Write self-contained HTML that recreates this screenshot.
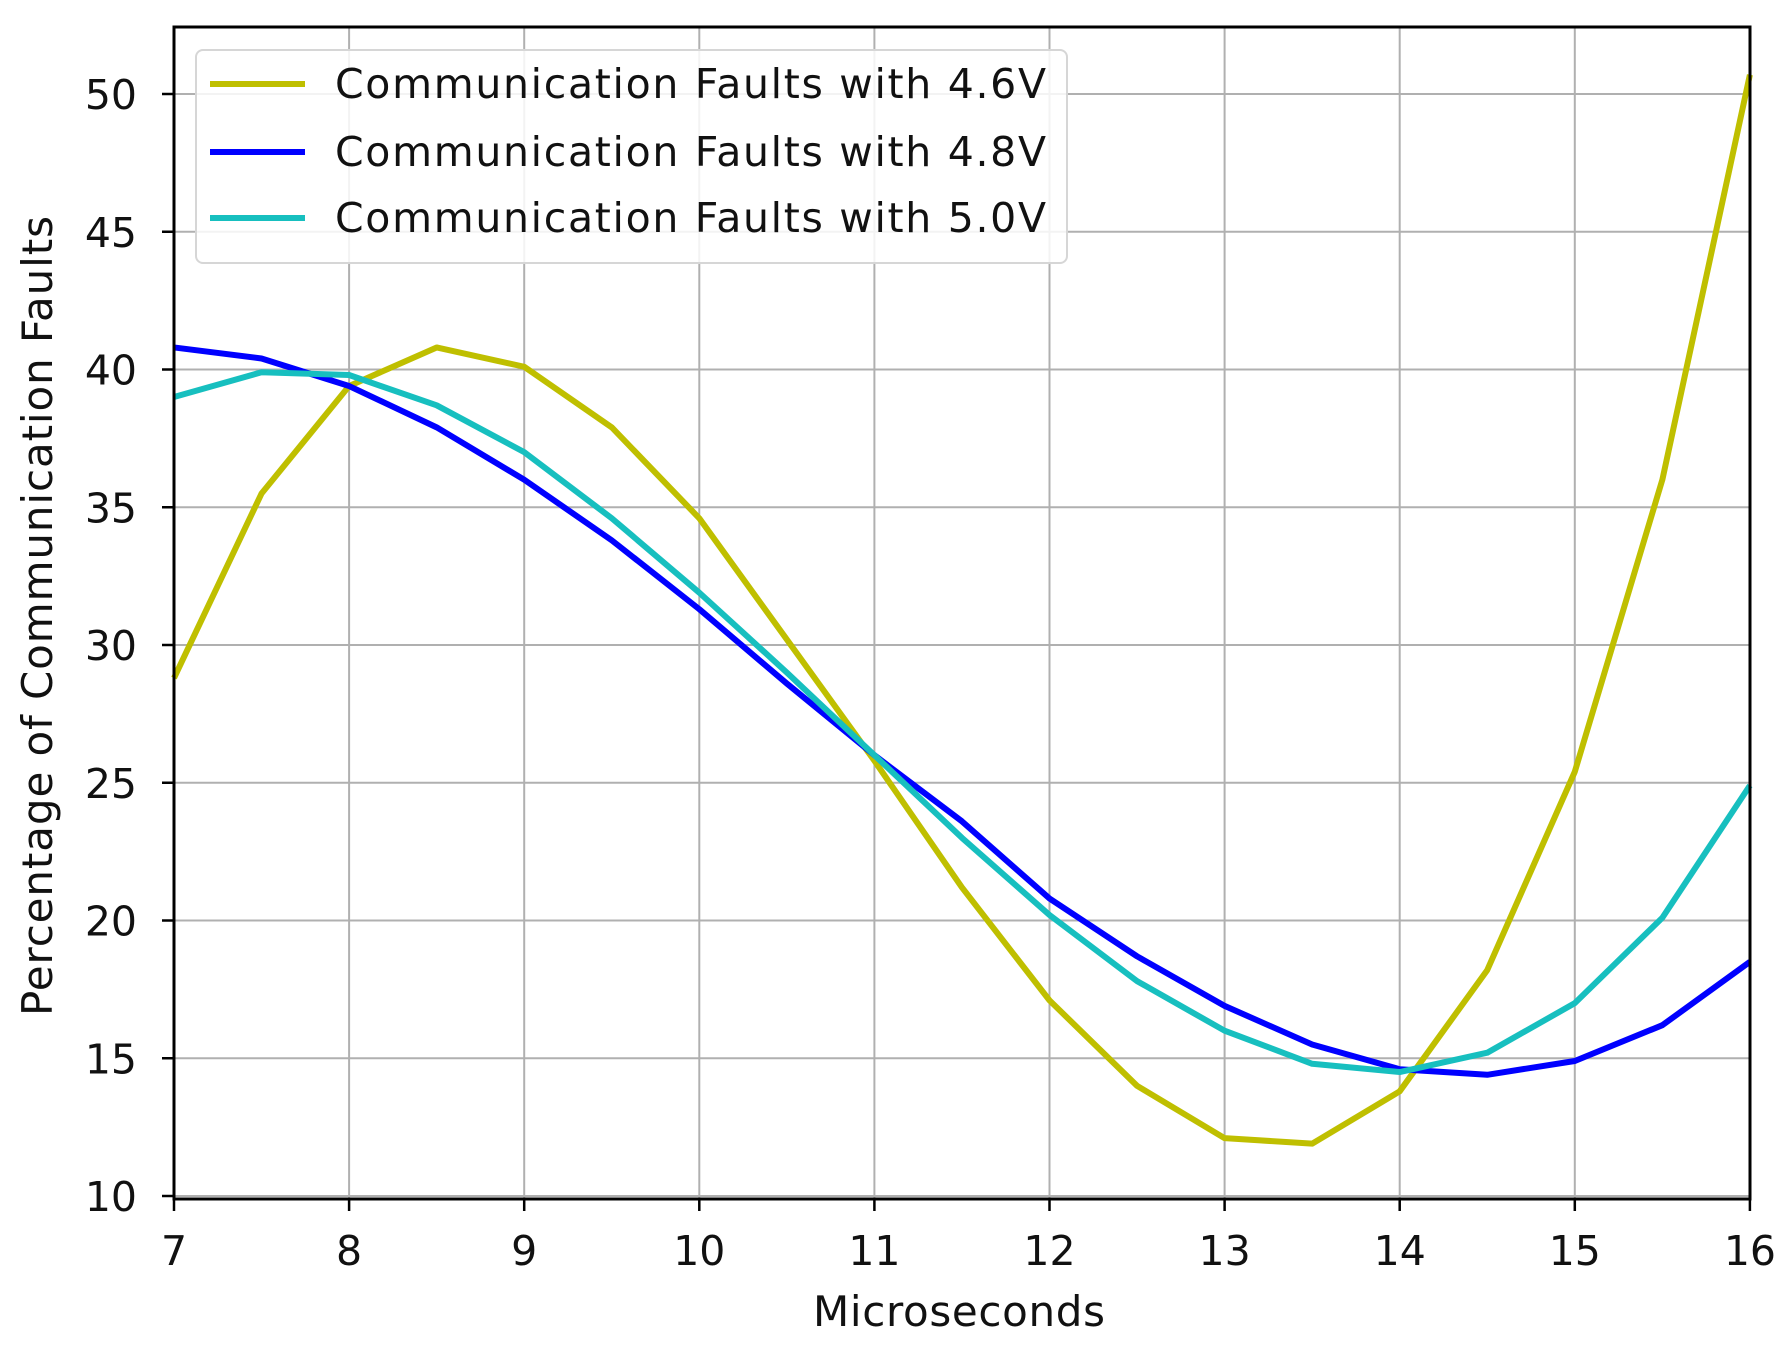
<!DOCTYPE html>
<html><head><meta charset="utf-8"><style>body{margin:0;background:#fff}svg{display:block}text{font-family:"DejaVu Sans","Liberation Sans",sans-serif;fill:#111}</style></head>
<body>
<svg id="s" width="1790" height="1352" xmlns="http://www.w3.org/2000/svg">
<rect width="1790" height="1352" fill="#fff"/>
<g id="grid" stroke="#b0b0b0" stroke-width="2"></g>
<g id="lines" fill="none" stroke-width="6" stroke-linejoin="round"></g>
<rect x="174" y="27" width="1576" height="1172" fill="none" stroke="#000" stroke-width="3"/>
<g id="ticks" stroke="#000" stroke-width="2.5"></g>
<g id="labels" font-size="41"></g>
<g>
<rect x="196" y="50" width="871" height="213" rx="7" fill="#fff" fill-opacity="0.85" stroke="#d6d6d6" stroke-width="2"/>
<line x1="210" y1="84" x2="305" y2="84" stroke="#bfbf00" stroke-width="6"/>
<line x1="210" y1="152" x2="305" y2="152" stroke="#0000ff" stroke-width="6"/>
<line x1="210" y1="218" x2="305" y2="218" stroke="#17bfbf" stroke-width="6"/>
<text x="335" y="98" font-size="41" textLength="711">Communication Faults with 4.6V</text>
<text x="335" y="166" font-size="41" textLength="711">Communication Faults with 4.8V</text>
<text x="335" y="232" font-size="41" textLength="711">Communication Faults with 5.0V</text>
</g>
<text x="959" y="1326" font-size="42" text-anchor="middle" textLength="292">Microseconds</text>
<text transform="translate(52,616) rotate(-90)" font-size="42" text-anchor="middle" textLength="800">Percentage of Communication Faults</text>
</svg>
<script>
var X=t=>174+(t-7)*175.1, Y=v=>94+(50-v)*27.55;
var g=document.getElementById('grid'),tk=document.getElementById('ticks'),lb=document.getElementById('labels'),L=document.getElementById('lines');
var h='',k='',l='';
for(var t=7;t<=16;t++){var x=X(t);h+=`<line x1="${x}" y1="27" x2="${x}" y2="1199"/>`;k+=`<line x1="${x}" y1="1199" x2="${x}" y2="1211"/>`;l+=`<text x="${x}" y="1265" text-anchor="middle">${t}</text>`;}
for(var v=10;v<=50;v+=5){var y=Y(v);h+=`<line x1="174" y1="${y}" x2="1750" y2="${y}"/>`;k+=`<line x1="162" y1="${y}" x2="174" y2="${y}"/>`;l+=`<text x="137" y="${y+15}" text-anchor="end">${v}</text>`;}
g.innerHTML=h;tk.innerHTML=k;lb.innerHTML=l;
var D=[["#bfbf00",[28.8,35.5,39.4,40.8,40.1,37.9,34.6,30.2,25.8,21.2,17.1,14.0,12.1,11.9,13.8,18.2,25.4,36.0,50.7]],
["#0000ff",[40.8,40.4,39.4,37.9,36.0,33.8,31.3,28.6,26.0,23.6,20.8,18.7,16.9,15.5,14.6,14.4,14.9,16.2,18.5]],
["#17bfbf",[39.0,39.9,39.8,38.7,37.0,34.6,31.9,29.0,26.0,23.0,20.2,17.8,16.0,14.8,14.5,15.2,17.0,20.1,24.9]]];
var s='';D.forEach(d=>{s+=`<polyline stroke="${d[0]}" points="${d[1].map((v,i)=>X(7+i*0.5)+','+Y(v)).join(' ')}"/>`;});L.innerHTML=s;
</script>
</body></html>
